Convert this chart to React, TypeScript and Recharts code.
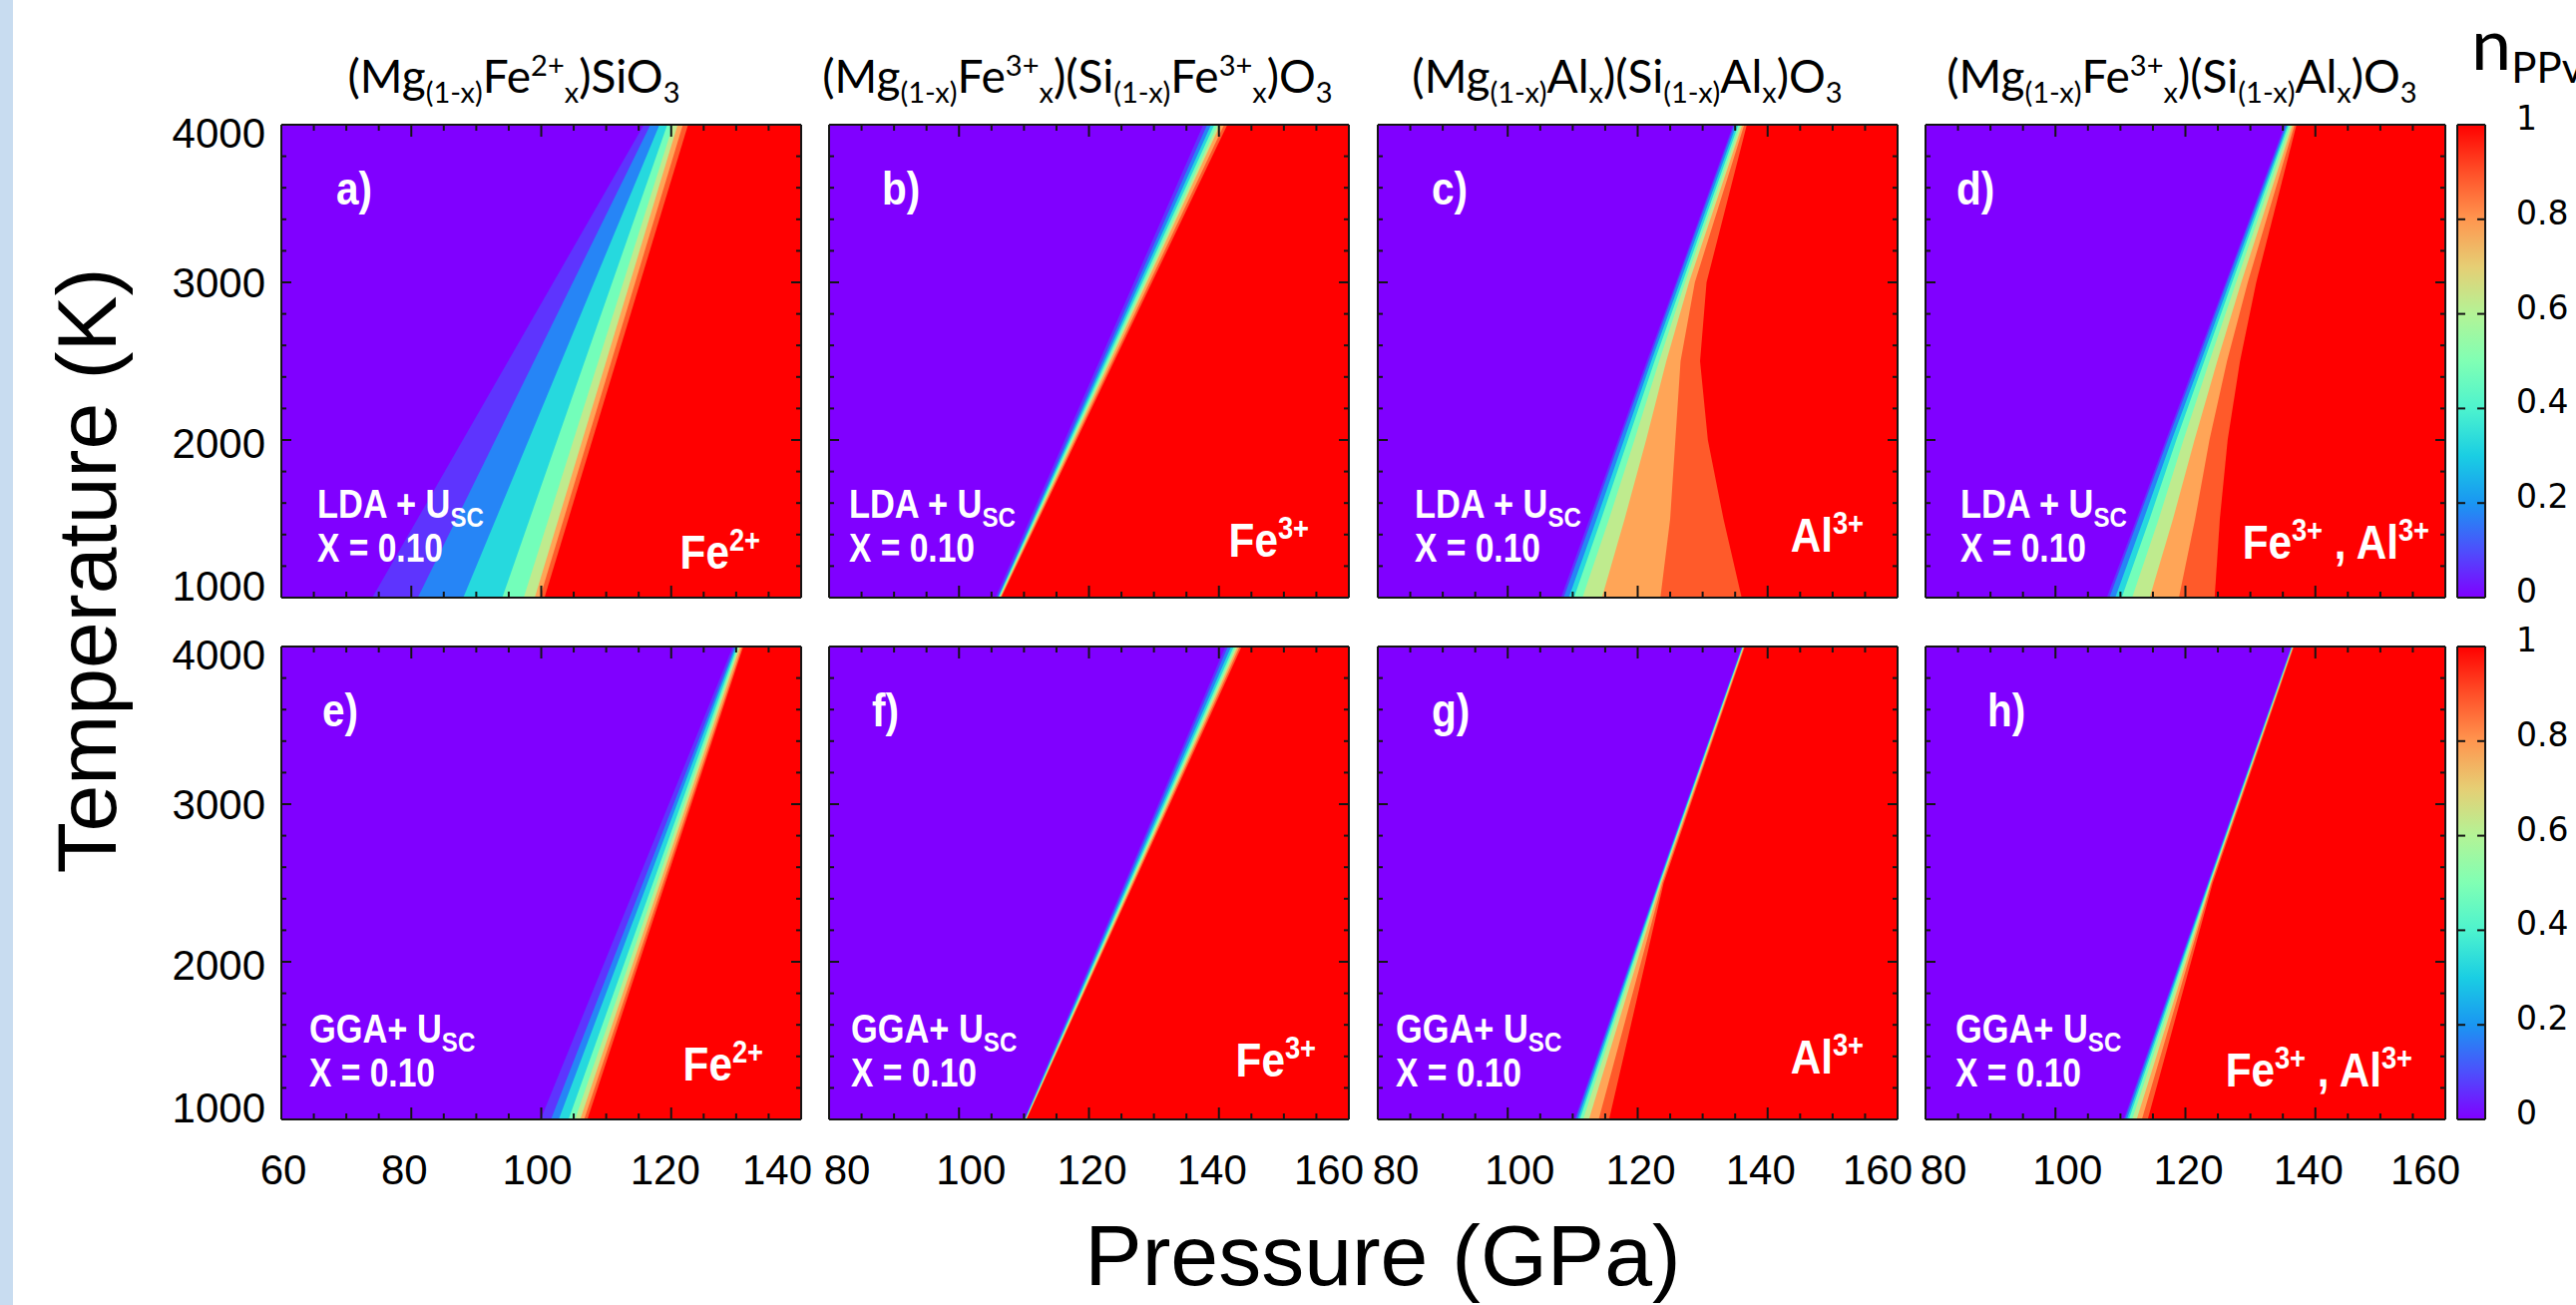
import React from 'react';
import { ComposedChart, Area, XAxis, YAxis } from 'recharts';

// n_PPv contour levels and the colour filled above each level (rainbow map)
const LEVELS = [0.03, 0.1, 0.25, 0.4, 0.55, 0.7, 0.85, 0.97];
const LEVEL_COLORS = ['#5e34fe', '#2685f6', '#26d9de', '#73feba', '#bfeb8e', '#ffa557', '#ff5a2a', '#ff0000'];
const PURPLE = '#8000ff';

// pressure (GPa) where each level is crossed; one row per temperature (K)
const A_T = [1000, 4000];
const A_P = [
  [74, 81, 88, 94, 97.3, 99, 99.8, 100.5],
  [115.8, 116.8, 118.2, 119.4, 120.3, 121.0, 121.8, 122.6],
];
const B_T = [1000, 4000];
const B_P = [
  [105.6, 105.9, 106.0, 106.1, 106.2, 106.3, 106.4, 106.5],
  [137.6, 138.2, 138.8, 139.3, 139.8, 140.2, 140.8, 141.3],
];
const C_T = [1000, 1500, 2000, 2500, 3000, 4000];
const C_P = [
  [108.2, 108.6, 109.4, 110.2, 111.5, 114.5, 123.5, 136],
  [112.6, 113.0, 113.7, 114.4, 115.6, 118.0, 125.0, 133.2],
  [117.0, 117.3, 117.9, 118.5, 119.5, 121.3, 125.8, 130.8],
  [121.4, 121.7, 122.1, 122.6, 123.3, 124.4, 126.6, 129.6],
  [125.9, 126.1, 126.5, 126.9, 127.3, 127.9, 128.8, 130.6],
  [134.7, 134.9, 135.2, 135.5, 135.8, 136.1, 136.4, 136.8],
];
const D_T = [1000, 1500, 2000, 2500, 3000, 4000];
const D_P = [
  [107.9, 108.3, 109.2, 110.2, 111.8, 114.5, 119, 124.5],
  [112.5, 112.8, 113.6, 114.5, 115.9, 118.1, 121.5, 125.3],
  [117.0, 117.3, 117.9, 118.6, 119.7, 121.4, 123.7, 126.5],
  [121.6, 121.9, 122.4, 122.9, 123.7, 124.9, 126.4, 128.4],
  [126.2, 126.4, 126.8, 127.2, 127.8, 128.6, 129.6, 130.9],
  [135.3, 135.5, 135.7, 135.9, 136.2, 136.5, 136.8, 137.1],
];
const E_T = [1000, 4000];
const E_P = [
  [99.9, 101.5, 102.7, 104.2, 105.2, 106.0, 106.6, 107.1],
  [129.5, 129.8, 130.0, 130.2, 130.4, 130.6, 130.9, 131.1],
];
const F_T = [1000, 4000];
const F_P = [
  [110.0, 110.1, 110.15, 110.2, 110.25, 110.3, 110.35, 110.4],
  [141.0, 141.4, 141.9, 142.3, 142.6, 142.9, 143.2, 143.5],
];
const G_T = [1000, 2500, 4000];
const G_P = [
  [110.3, 110.5, 110.8, 111.1, 111.6, 112.5, 114, 115.6],
  [123.1, 123.2, 123.3, 123.4, 123.5, 123.6, 123.8, 124.0],
  [136.0, 136.1, 136.15, 136.2, 136.25, 136.3, 136.4, 136.5],
];
const H_T = [1000, 2500, 4000];
const H_P = [
  [110.5, 110.7, 111.0, 111.3, 111.8, 112.5, 113.3, 114.2],
  [123.4, 123.5, 123.6, 123.7, 123.8, 123.9, 124.0, 124.2],
  [136.3, 136.35, 136.4, 136.45, 136.5, 136.55, 136.6, 136.7],
];

const X_LABELS_LOW = [60, 80, 100, 120, 140];
const X_LABELS_HIGH = [80, 100, 120, 140, 160];
const Y_LABELS = [1000, 2000, 3000, 4000];
const CB_LABELS = [0, 0.2, 0.4, 0.6, 0.8, 1];
const CB_OFFSETS = [0, 0.1, 0.2, 0.3, 0.4, 0.5, 0.6, 0.7, 0.8, 0.9, 1];
const CB_COLORS = ['#8000ff', '#4d4ffc', '#1a96f2', '#1acee3', '#4df3ce', '#80ffb4', '#b3f396', '#e6ce74', '#ff964f', '#ff4f28', '#ff0000'];
const CB_FILL = [{ x: 0, n: 1 }, { x: 1, n: 1 }];

type Seg = [string, 'n' | 'sub' | 'sup'];
const TITLES: Seg[][] = [
  [['(Mg', 'n'], ['(1-x)', 'sub'], ['Fe', 'n'], ['2+', 'sup'], ['x', 'sub'], [')SiO', 'n'], ['3', 'sub']],
  [['(Mg', 'n'], ['(1-x)', 'sub'], ['Fe', 'n'], ['3+', 'sup'], ['x', 'sub'], [')(Si', 'n'], ['(1-x)', 'sub'], ['Fe', 'n'], ['3+', 'sup'], ['x', 'sub'], [')O', 'n'], ['3', 'sub']],
  [['(Mg', 'n'], ['(1-x)', 'sub'], ['Al', 'n'], ['x', 'sub'], [')(Si', 'n'], ['(1-x)', 'sub'], ['Al', 'n'], ['x', 'sub'], [')O', 'n'], ['3', 'sub']],
  [['(Mg', 'n'], ['(1-x)', 'sub'], ['Fe', 'n'], ['3+', 'sup'], ['x', 'sub'], [')(Si', 'n'], ['(1-x)', 'sub'], ['Al', 'n'], ['x', 'sub'], [')O', 'n'], ['3', 'sub']],
];
const ION_FE2: Seg[] = [['Fe', 'n'], ['2+', 'sup']];
const ION_FE3: Seg[] = [['Fe', 'n'], ['3+', 'sup']];
const ION_AL3: Seg[] = [['Al', 'n'], ['3+', 'sup']];
const ION_BOTH: Seg[] = [['Fe', 'n'], ['3+', 'sup'], [' , Al', 'n'], ['3+', 'sup']];
const LDA: Seg[] = [['LDA + U', 'n'], ['SC', 'sub']];
const GGA: Seg[] = [['GGA+ U', 'n'], ['SC', 'sub']];

const PANELS = [
  { tag: 'a)', row: 0, col: 0, domain: [60, 140], t: A_T, p: A_P, ion: ION_FE2 },
  { tag: 'b)', row: 0, col: 1, domain: [80, 160], t: B_T, p: B_P, ion: ION_FE3 },
  { tag: 'c)', row: 0, col: 2, domain: [80, 160], t: C_T, p: C_P, ion: ION_AL3 },
  { tag: 'd)', row: 0, col: 3, domain: [80, 160], t: D_T, p: D_P, ion: ION_BOTH },
  { tag: 'e)', row: 1, col: 0, domain: [60, 140], t: E_T, p: E_P, ion: ION_FE2 },
  { tag: 'f)', row: 1, col: 1, domain: [80, 160], t: F_T, p: F_P, ion: ION_FE3 },
  { tag: 'g)', row: 1, col: 2, domain: [80, 160], t: G_T, p: G_P, ion: ION_AL3 },
  { tag: 'h)', row: 1, col: 3, domain: [80, 160], t: H_T, p: H_P, ion: ION_BOTH },
];

// layout (page pixels)
const M = { top: 30, right: 40, bottom: 12, left: 12 };
const PW = 521;
const PH = 474;
const PANEL_LEFTS = [282, 831, 1381, 1930];
const ROW_TOPS = [125, 648];
const TITLE_X = [515, 1080, 1631, 2187];
const TAG_DX = [55, 53, 54, 31, 41, 43, 54, 62];
const METHOD_DX = [36, 20, 37, 35, 28, 22, 18, 30];
const ION_RIGHT = [41, 40, 34, 16, 38, 33, 34, 33];
const ION_Y = [570, 558, 553, 560, 1083, 1079, 1076, 1089];
const LABEL_DX_LOW = [2, -7, -4, -6, -24];
const LABEL_DX_HIGH = [18, 12, 3, -7, -20];
const INK = '#151515';
const SANS = '"Liberation Sans", Arial, sans-serif';
const TITLE_FONT = 'Lato, "Open Sans", sans-serif';
const CB_FONT = '"DejaVu Sans", sans-serif';
const FRAME = { stroke: INK, strokeWidth: 2 };

const steps = (a: number, b: number, s: number) => {
  const out: number[] = [];
  for (let v = a; v <= b + 1e-9; v += s) out.push(Math.round(v * 1000) / 1000);
  return out;
};

function Rich({ x, y, segs, size, sub, anchor = 'start', fill = '#000', family, weight = 'normal', sx = 1 }: any) {
  let cur = 0;
  return (
    <g transform={`translate(${x},${y}) scale(${sx},1)`}>
      <text x={0} y={0} textAnchor={anchor} fill={fill} fontFamily={family} fontWeight={weight} fontSize={size}
        style={{ whiteSpace: 'pre' }}>
        {segs.map(([s, k]: Seg, i: number) => {
          const target = k === 'sub' ? size * 0.22 : k === 'sup' ? -size * 0.38 : 0;
          const dy = target - cur;
          cur = target;
          return (
            <tspan key={i} dy={dy} fontSize={k === 'n' ? size : sub}>{s}</tspan>
          );
        })}
      </text>
    </g>
  );
}

function Panel({ cfg, idx }: any) {
  const [xmin, xmax] = cfg.domain;
  const left = PANEL_LEFTS[cfg.col];
  const top = ROW_TOPS[cfg.row];
  const showY = cfg.col === 0;
  const showX = cfg.row === 1;
  const yw = showY ? 150 : 1;
  const xh = showX ? 90 : 1;
  const width = M.left + yw + PW + 1 + M.right;
  const height = M.top + 1 + PH + xh + M.bottom;
  const base = [{ p: xmin, t: 4000 }, { p: xmax, t: 4000 }];
  const contours = LEVELS.map((_, k) =>
    cfg.t.map((t: number, i: number) => ({ p: cfg.p[i][k], t })).concat([{ p: xmax, t: 4000 }])
  );
  const xTicks = steps(xmin, xmax, 5);
  const yTicks = steps(1000, 4000, 200);
  const labels = xmin === 60 ? X_LABELS_LOW : X_LABELS_HIGH;
  const labelDx = xmin === 60 ? LABEL_DX_LOW : LABEL_DX_HIGH;

  const bottomTick = (props: any) => {
    const { x, y, payload } = props;
    const li = labels.indexOf(payload.value);
    return (
      <g>
        <line x1={x} x2={x} y1={y} y2={y - (li >= 0 ? 12 : 6)} stroke={INK} strokeWidth={2} />
        {showX && li >= 0 && (
          <text x={x + labelDx[li]} y={y + 65} textAnchor="middle" fontSize={42} fontFamily={SANS} fill="#000">
            {payload.value}
          </text>
        )}
      </g>
    );
  };
  const topTick = (props: any) => {
    const { x, y, payload } = props;
    const major = labels.includes(payload.value);
    return <line x1={x} x2={x} y1={y} y2={y + (major ? 12 : 6)} stroke={INK} strokeWidth={2} />;
  };
  const leftTick = (props: any) => {
    const { x, y, payload } = props;
    const major = Y_LABELS.includes(payload.value);
    const dy = payload.value === 4000 ? 8 : payload.value === 1000 ? -12 : payload.value === 2000 ? 3 : 0;
    return (
      <g>
        <line x1={x} x2={x + (major ? 10 : 5)} y1={y} y2={y} stroke={INK} strokeWidth={2} />
        {showY && major && (
          <text x={x - 16} y={y + dy + 15} textAnchor="end" fontSize={42} fontFamily={SANS} fill="#000">
            {payload.value}
          </text>
        )}
      </g>
    );
  };
  const rightTick = (props: any) => {
    const { x, y, payload } = props;
    const major = Y_LABELS.includes(payload.value);
    return <line x1={x} x2={x - (major ? 10 : 5)} y1={y} y2={y} stroke={INK} strokeWidth={2} />;
  };

  return (
    <div style={{ position: 'absolute', left: left - M.left - yw, top: top - M.top - 1 }}>
      <ComposedChart width={width} height={height} margin={M}>
        <Area data={base} dataKey="t" type="linear" stroke="none" fill={PURPLE} fillOpacity={1}
          baseValue="dataMin" dot={false} activeDot={false} isAnimationActive={false} />
        {contours.map((d: any, k: number) => (
          <Area key={`lv-${idx}-${k}`} data={d} dataKey="t" type="linear" stroke="none" fill={LEVEL_COLORS[k]}
            fillOpacity={1} baseValue="dataMin" dot={false} activeDot={false} isAnimationActive={false} />
        ))}
        <XAxis xAxisId={0} type="number" dataKey="p" domain={cfg.domain} allowDataOverflow ticks={xTicks}
          interval={0} height={xh} tickSize={0} tickMargin={0} tickLine={false} axisLine={FRAME} tick={bottomTick} />
        <XAxis xAxisId="top" orientation="top" type="number" dataKey="p" domain={cfg.domain} allowDataOverflow
          ticks={xTicks} interval={0} height={1} tickSize={0} tickMargin={0} tickLine={false} axisLine={FRAME} tick={topTick} />
        <YAxis yAxisId={0} type="number" domain={[1000, 4000]} allowDataOverflow ticks={yTicks} interval={0}
          width={yw} tickSize={0} tickMargin={0} tickLine={false} axisLine={FRAME} tick={leftTick} />
        <YAxis yAxisId="right" orientation="right" type="number" domain={[1000, 4000]} allowDataOverflow
          ticks={yTicks} interval={0} width={1} tickSize={0} tickMargin={0} tickLine={false} axisLine={FRAME} tick={rightTick} />
      </ComposedChart>
    </div>
  );
}

const CB_M = { top: 30, right: 90, bottom: 12, left: 12 };

function ColorBar({ top, id }: any) {
  const bw = 28;
  const width = CB_M.left + 1 + bw + 1 + CB_M.right;
  const height = CB_M.top + 1 + PH + 1 + CB_M.bottom;
  const leftTick = (props: any) => {
    const { x, y } = props;
    return <line x1={x} x2={x + 8} y1={y} y2={y} stroke={INK} strokeWidth={2} />;
  };
  const rightTick = (props: any) => {
    const { x, y, payload } = props;
    return (
      <g>
        <line x1={x} x2={x - 8} y1={y} y2={y} stroke={INK} strokeWidth={2} />
        <text x={x + 31} y={y + 5} textAnchor="start" fontSize={33} fontFamily={CB_FONT} fill="#000">
          {String(payload.value)}
        </text>
      </g>
    );
  };
  return (
    <div style={{ position: 'absolute', left: 2463 - CB_M.left - 1, top: top - CB_M.top - 1 }}>
      <ComposedChart width={width} height={height} margin={CB_M}>
        <defs>
          <linearGradient id={id} x1="0" y1="1" x2="0" y2="0">
            {CB_COLORS.map((c, i) => (
              <stop key={i} offset={CB_OFFSETS[i]} stopColor={c} />
            ))}
          </linearGradient>
        </defs>
        <Area data={CB_FILL} dataKey="n" type="linear" stroke="none" fill={`url(#${id})`} fillOpacity={1}
          baseValue="dataMin" dot={false} activeDot={false} isAnimationActive={false} />
        <XAxis xAxisId={0} type="number" dataKey="x" domain={[0, 1]} allowDataOverflow height={1} tick={false}
          tickLine={false} axisLine={FRAME} />
        <XAxis xAxisId="top" orientation="top" type="number" dataKey="x" domain={[0, 1]} allowDataOverflow height={1}
          tick={false} tickLine={false} axisLine={FRAME} />
        <YAxis yAxisId={0} type="number" domain={[0, 1]} allowDataOverflow ticks={CB_LABELS} interval={0} width={1}
          tickSize={0} tickMargin={0} tickLine={false} axisLine={FRAME} tick={leftTick} />
        <YAxis yAxisId="right" orientation="right" type="number" domain={[0, 1]} allowDataOverflow ticks={CB_LABELS}
          interval={0} width={1} tickSize={0} tickMargin={0} tickLine={false} axisLine={FRAME} tick={rightTick} />
      </ComposedChart>
    </div>
  );
}

export default function App() {
  return (
    <div style={{ position: 'absolute', left: 0, top: 0, width: 2582, height: 1308, background: '#fff', overflow: 'hidden' }}>
      <div style={{ position: 'absolute', left: 0, top: 0, width: 13, height: 1308, background: '#c8dcf0' }} />
      {PANELS.map((cfg, i) => (
        <Panel key={cfg.tag} cfg={cfg} idx={i} />
      ))}
      <ColorBar top={ROW_TOPS[0]} id="cbTop" />
      <ColorBar top={ROW_TOPS[1]} id="cbBottom" />
      <svg width={2582} height={1308} style={{ position: 'absolute', left: 0, top: 0, pointerEvents: 'none' }}>
        {TITLES.map((segs, i) => (
          <Rich key={`t${i}`} x={TITLE_X[i]} y={93} segs={segs} size={46} sub={29} anchor="middle" family={TITLE_FONT} />
        ))}
        {PANELS.map((cfg, i) => {
          const left = PANEL_LEFTS[cfg.col];
          const top = ROW_TOPS[cfg.row];
          const mBase = cfg.row === 0 ? 519 : 1045;
          return (
            <g key={`ann${i}`}>
              <Rich x={left + TAG_DX[i]} y={top + 80} segs={[[cfg.tag, 'n']]} size={46} sub={46} fill="#fff"
                family={SANS} weight="bold" sx={0.88} />
              <Rich x={left + METHOD_DX[i]} y={mBase} segs={cfg.row === 0 ? LDA : GGA} size={40} sub={28}
                fill="#fff" family={SANS} weight="bold" sx={0.86} />
              <Rich x={left + METHOD_DX[i]} y={mBase + 44} segs={[['X = 0.10', 'n']]} size={40} sub={40}
                fill="#fff" family={SANS} weight="bold" sx={0.84} />
              <Rich x={left + PW - ION_RIGHT[i]} y={ION_Y[i]} segs={cfg.ion} size={48} sub={31} anchor="end"
                fill="#fff" family={SANS} weight="bold" sx={0.88} />
            </g>
          );
        })}
        <text x={2477} y={70} fontFamily={TITLE_FONT} fontSize={72} fill="#000" style={{ whiteSpace: 'pre' }}>
          n<tspan fontSize={42} dy={13}>PPv</tspan>
        </text>
        <text transform="translate(116,572) rotate(-90)" textAnchor="middle" fontSize={84} fontFamily={SANS} fill="#000">
          Temperature (K)
        </text>
        <text x={1386} y={1288} textAnchor="middle" fontSize={86} fontFamily={SANS} fill="#000">
          Pressure (GPa)
        </text>
      </svg>
    </div>
  );
}
